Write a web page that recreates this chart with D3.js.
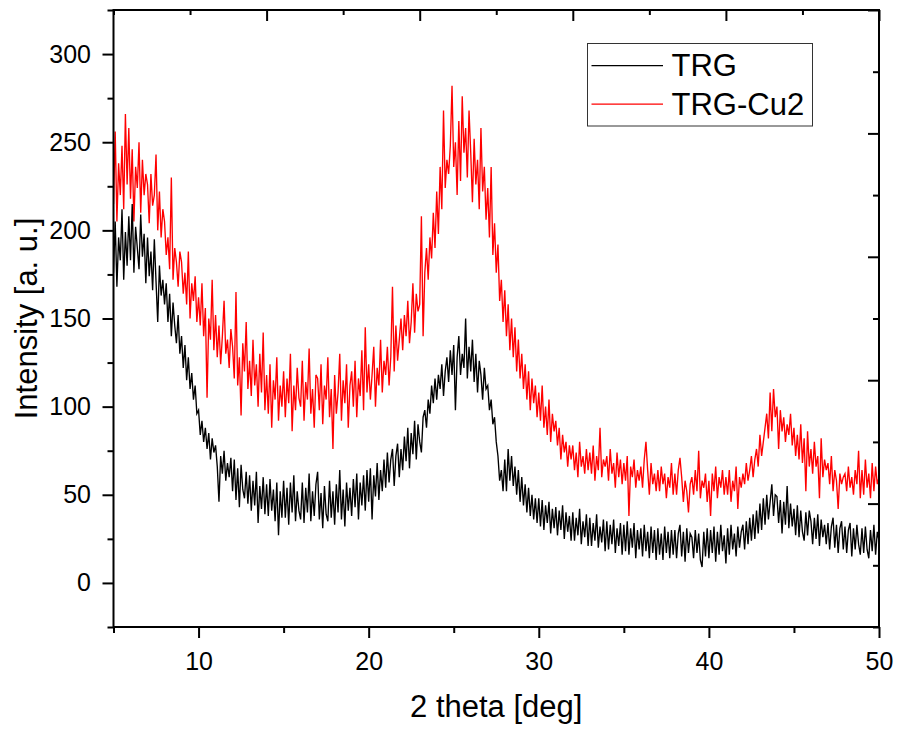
<!DOCTYPE html>
<html>
<head>
<meta charset="utf-8">
<script src="https://cdn.jsdelivr.net/npm/d3@7"></script>
<style>
    body { margin: 0; background: #fff; }
    text { font-family: "Liberation Sans", Arial, sans-serif; fill: #000; }
</style>
</head>
<body>
<svg id="chart" width="900" height="729"></svg>
<script>
// sampling grid of the scans (deg)
var angleStart = 5, angleStep = 0.1;

// TRG intensity, one row per degree (x.0 ... x.9)
var trg = [
    176, 205, 168, 196, 183, 212, 172, 199, 180, 208,
    183, 215, 176, 202, 190, 178, 209, 185, 198, 170,
    196, 174, 188, 166, 195, 171, 148, 180, 163, 172,
    158, 170, 148, 164, 140, 159, 146, 136, 152, 130,
    140, 122, 135, 115, 128, 110, 119, 104, 112, 96,
    98, 84, 92, 80, 88, 76, 85, 70, 82, 74,
    78, 66, 46, 72, 62, 75, 58, 68, 60, 71,
    52, 70, 47, 65, 43, 67, 53, 48, 63, 45,
    61, 41, 58, 44, 63, 34, 55, 42, 60, 39,
    56, 38, 59, 41, 53, 35, 57, 27, 52, 37,
    58, 37, 54, 33, 57, 40, 61, 35, 52, 41,
    36, 57, 34, 54, 40, 62, 35, 52, 38, 56,
    63, 36, 51, 31, 55, 39, 35, 58, 37, 52,
    33, 56, 40, 64, 36, 53, 32, 57, 41, 54,
    38, 59, 43, 62, 36, 57, 44, 61, 41, 64,
    46, 65, 36, 61, 49, 68, 47, 64, 52, 70,
    54, 74, 57, 70, 76, 55, 72, 79, 60, 76,
    64, 83, 69, 88, 65, 85, 73, 92, 70, 90,
    80, 74, 94, 98, 88, 104, 96, 112, 102, 116,
    104, 118, 110, 124, 106, 120, 128, 114, 132, 118,
    135, 98, 128, 140, 118, 130, 122, 150, 116, 134,
    120, 138, 114, 130, 108, 126, 118, 104, 122, 110,
    112, 98, 104, 90, 94, 80, 72, 58, 64, 52,
    70, 52, 76, 58, 72, 55, 66, 50, 64, 46,
    60, 44, 56, 40, 54, 38, 50, 36, 48, 34,
    48, 32, 47, 30, 44, 34, 46, 28, 42, 31,
    43, 27, 41, 30, 44, 25, 40, 29, 38, 24,
    40, 24, 37, 27, 42, 22, 35, 26, 39, 21,
    37, 21, 34, 24, 39, 20, 32, 23, 36, 18,
    35, 19, 33, 22, 36, 17, 31, 21, 34, 16,
    33, 18, 35, 16, 31, 20, 34, 14, 30, 19,
    31, 15, 33, 18, 29, 14, 32, 17, 30, 13,
    31, 16, 28, 13, 32, 17, 29, 14, 30, 16,
    30, 14, 28, 33, 15, 29, 12, 31, 17, 28,
    26, 14, 30, 17, 28, 13, 9, 29, 15, 31,
    14, 30, 17, 32, 12, 29, 16, 33, 18, 27,
    11, 31, 16, 33, 19, 28, 15, 32, 20, 29,
    33, 19, 35, 22, 37, 24, 39, 25, 41, 28,
    45, 30, 48, 33, 50, 36, 46, 56, 38, 50,
    49, 34, 47, 28, 46, 33, 55, 31, 45, 32,
    42, 27, 44, 26, 41, 29, 24, 40, 27, 41,
    35, 22, 37, 25, 39, 21, 36, 26, 33, 22,
    34, 19, 32, 37, 20, 33, 17, 31, 35, 19,
    32, 17, 30, 34, 15, 31, 19, 33, 22, 16,
    31, 17, 32, 19, 14, 30, 18, 33, 16, 29,
    24
];

// TRG-Cu2 intensity, same grid
var trgCu2 = [
    215, 256, 205, 238, 220, 248, 212, 266, 226, 258,
    218, 246, 205, 236, 224, 250, 210, 240, 220, 232,
    226, 204, 232, 214, 220, 243, 200, 222, 196, 212,
    205, 186, 196, 178, 230, 172, 190, 182, 168, 188,
    182, 164, 176, 158, 188, 150, 170, 160, 174, 148,
    162, 146, 170, 140, 156, 105, 150, 138, 172, 132,
    152, 128, 146, 124, 140, 160, 130, 138, 122, 144,
    134, 116, 165, 112, 128, 95, 136, 120, 148, 110,
    126, 106, 138, 112, 124, 100, 130, 108, 142, 98,
    118, 96, 124, 88, 115, 104, 128, 92, 112, 100,
    120, 94, 116, 102, 130, 86, 112, 98, 122, 105,
    100, 126, 92, 114, 104, 133, 96, 110, 88, 118,
    116, 98, 124, 90, 112, 104, 128, 94, 110, 76,
    118, 96, 108, 130, 92, 115, 102, 124, 88, 112,
    120, 100, 126, 94, 116, 106, 132, 98, 145, 108,
    124, 104, 118, 134, 100, 122, 112, 138, 108, 126,
    118, 134, 112, 128, 168, 120, 146, 126, 138, 150,
    132, 152, 140, 160, 136, 148, 170, 142, 164, 154,
    158, 208, 140, 176, 190, 172, 196, 184, 210, 190,
    222, 198, 236, 212, 268, 224, 240, 232, 248, 282,
    236, 250, 220, 262, 228, 276, 244, 258, 230, 268,
    244, 216, 252, 226, 240, 212, 258, 222, 236, 206,
    224, 196, 236, 186, 204, 176, 192, 160, 172, 148,
    166, 140, 158, 132, 150, 128, 145, 120, 138, 116,
    130, 110, 124, 104, 120, 98, 116, 102, 112, 94,
    108, 92, 112, 88, 100, 84, 104, 80, 96, 86,
    92, 78, 88, 70, 84, 74, 80, 66, 78, 70,
    78, 64, 74, 60, 80, 66, 72, 62, 76, 64,
    74, 62, 78, 58, 72, 64, 88, 60, 70, 66,
    72, 58, 76, 62, 68, 54, 74, 60, 70, 56,
    68, 58, 72, 38, 66, 60, 70, 54, 64, 58,
    66, 54, 70, 80, 64, 50, 68, 56, 62, 52,
    64, 52, 66, 56, 62, 48, 60, 54, 68, 50,
    62, 50, 64, 71, 60, 46, 58, 52, 40, 56,
    60, 50, 64, 52, 75, 48, 58, 54, 62, 46,
    58, 38, 62, 52, 66, 48, 60, 54, 64, 50,
    60, 50, 64, 46, 58, 52, 66, 42, 60, 54,
    62, 56, 68, 58, 64, 72, 60, 70, 76, 66,
    84, 72, 80, 88, 96, 82, 108, 86, 110, 94,
    100, 76, 98, 86, 94, 80, 90, 84, 96, 78,
    88, 72, 84, 70, 90, 68, 82, 52, 86, 66,
    76, 62, 80, 66, 72, 48, 82, 60, 70, 64,
    68, 56, 72, 52, 64, 58, 42, 62, 56, 60,
    62, 52, 66, 54, 60, 50, 64, 56, 75, 48,
    64, 50, 70, 54, 62, 48, 68, 52, 66, 56,
    60
];

var seriesNames = ["TRG", "TRG-Cu2"];
var seriesColors = ["#000000", "#ff0000"];

var xMajor = [10, 20, 30, 40, 50];
var xMinor = [5, 15, 25, 35, 45];
var yMajor = [0, 50, 100, 150, 200, 250, 300];
var yMinor = [-25, 25, 75, 125, 175, 225, 275, 325];
// opposite axes keep Origin's own default spacing
var topMajor = [14, 23, 32, 41, 50];
var topMinor = [5, 9.5, 18.5, 27.5, 36.5, 45.5];
var rightMajor = [45, 115, 185, 255, 325];
var rightMinor = [-25, 10, 80, 150, 220, 290];

var svg = d3.select("#chart");
var plotLeft = 113.5, plotRight = 879, plotTop = 10, plotBottom = 627;

var x = d3.scaleLinear().domain([5, 50]).range([plotLeft, plotRight]);
var y = d3.scaleLinear().domain([-25, 325]).range([plotBottom, plotTop]);

svg.append("defs").append("clipPath")
    .attr("id", "plot_clip")
    .append("rect")
    .attr("x", plotLeft).attr("y", plotTop)
    .attr("width", plotRight - plotLeft).attr("height", plotBottom - plotTop);

var line = d3.line()
    .x(function (d, i) { return x(angleStart + i * angleStep); })
    .y(function (d) { return y(d); });

var plot = svg.append("g").attr("clip-path", "url(#plot_clip)");
// red first so the black trace sits on top, as in the original
[trgCu2, trg].forEach(function (s, k) {
    plot.append("path")
        .datum(s)
        .attr("d", line)
        .attr("fill", "none")
        .attr("stroke", k == 0 ? seriesColors[1] : seriesColors[0])
        .attr("stroke-width", 1.35)
        .attr("stroke-linejoin", "miter");
});

function drawAxis(axis, transform) {
    var g = svg.append("g").attr("transform", transform).call(axis);
    g.attr("font-size", null).attr("font-family", null);
    g.select(".domain").remove();
    g.selectAll("line").attr("stroke", "#000").attr("stroke-width", 2);
    g.selectAll("text").style("font-size", "25px");
    return g;
}

var noLabel = function () { return ""; };

drawAxis(d3.axisBottom(x).tickValues(xMajor).tickSize(11).tickPadding(14).tickFormat(d3.format("d")),
    "translate(0," + plotBottom + ")");
drawAxis(d3.axisBottom(x).tickValues(xMinor).tickSize(6).tickFormat(noLabel),
    "translate(0," + plotBottom + ")");
drawAxis(d3.axisLeft(y).tickValues(yMajor).tickSize(11).tickPadding(11.5).tickFormat(d3.format("d")),
    "translate(" + plotLeft + ",0)");
drawAxis(d3.axisLeft(y).tickValues(yMinor).tickSize(6).tickFormat(noLabel),
    "translate(" + plotLeft + ",0)");
// inward ticks on top and right
drawAxis(d3.axisTop(x).tickValues(topMajor).tickSize(-11).tickFormat(noLabel),
    "translate(0," + plotTop + ")");
drawAxis(d3.axisTop(x).tickValues(topMinor).tickSize(-5).tickFormat(noLabel),
    "translate(0," + plotTop + ")");
drawAxis(d3.axisRight(y).tickValues(rightMajor).tickSize(-11).tickFormat(noLabel),
    "translate(" + plotRight + ",0)");
drawAxis(d3.axisRight(y).tickValues(rightMinor).tickSize(-6).tickFormat(noLabel),
    "translate(" + plotRight + ",0)");

svg.append("rect")
    .attr("x", plotLeft).attr("y", plotTop)
    .attr("width", plotRight - plotLeft).attr("height", plotBottom - plotTop)
    .attr("fill", "none")
    .attr("stroke", "#000")
    .attr("stroke-width", 2);

svg.append("text")
    .attr("x", (plotLeft + plotRight) / 2)
    .attr("y", 717)
    .attr("text-anchor", "middle")
    .attr("font-size", 31)
    .text("2 theta [deg]");

svg.append("text")
    .attr("transform", "translate(37," + (plotTop + plotBottom) / 2 + ") rotate(-90)")
    .attr("text-anchor", "middle")
    .attr("font-size", 31)
    .text("Intensity [a. u.]");

// legend
var legend = svg.append("g").attr("id", "legend");
legend.append("rect")
    .attr("x", 587.5).attr("y", 43.5)
    .attr("width", 225).attr("height", 82.5)
    .attr("fill", "#fff")
    .attr("stroke", "#333")
    .attr("stroke-width", 1);
seriesNames.forEach(function (name, i) {
    var ly = 65.7 + i * 38.5;
    legend.append("line")
        .attr("x1", 591.5).attr("x2", 663)
        .attr("y1", ly).attr("y2", ly)
        .attr("stroke", seriesColors[i])
        .attr("stroke-width", 1.2);
    legend.append("text")
        .attr("x", 671.5)
        .attr("y", ly + 10.5)
        .attr("font-size", 31)
        .text(name);
});
</script>
</body>
</html>
